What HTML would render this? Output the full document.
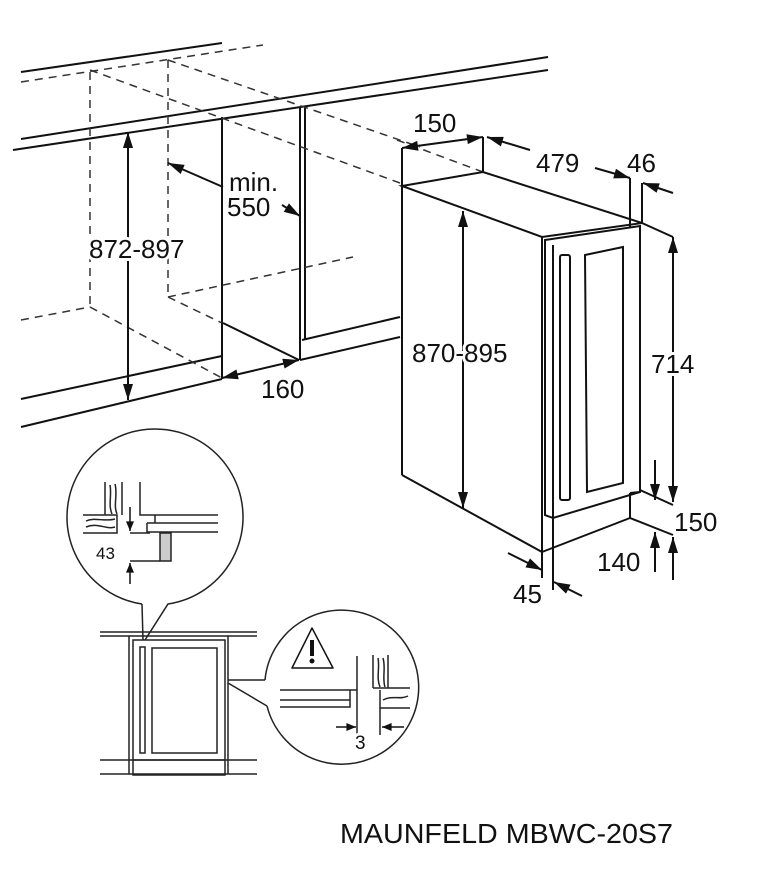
<!DOCTYPE html>
<html><head><meta charset="utf-8"><style>
html,body{margin:0;padding:0;background:#fff;}
svg{display:block;}
text{font-family:"Liberation Sans",sans-serif;fill:#111;paint-order:stroke;stroke:#fff;stroke-width:6px;stroke-linejoin:round;}
</style></head><body>
<svg width="764" height="896" viewBox="0 0 764 896" xmlns="http://www.w3.org/2000/svg">
<defs>
<marker id="a" viewBox="0 0 12 10" refX="12" refY="5" markerWidth="11" markerHeight="8" orient="auto-start-reverse" markerUnits="userSpaceOnUse"><path d="M0,0 L12,5 L0,10 z" fill="#111"/></marker>
<marker id="b" viewBox="0 0 16 10" refX="16" refY="5" markerWidth="17" markerHeight="10" orient="auto-start-reverse" markerUnits="userSpaceOnUse"><path d="M0,0 L16,5 L0,10 z" fill="#111"/></marker>
</defs>
<g stroke="#111" stroke-width="2" fill="none">
<line x1="21" y1="72" x2="222" y2="43"/>
<line x1="21" y1="139" x2="548" y2="57"/>
<line x1="13" y1="150" x2="548" y2="70"/>
<line x1="21" y1="399" x2="222" y2="356"/>
<line x1="21" y1="427" x2="222" y2="379"/>
<line x1="300" y1="360" x2="400" y2="337"/>
<line x1="302" y1="340" x2="400" y2="317"/>
<line x1="222" y1="117" x2="222" y2="379"/>
<line x1="300" y1="107" x2="300" y2="360"/>
<line x1="305" y1="106" x2="305" y2="340"/>
<line x1="223" y1="323" x2="299" y2="360"/>
</g>
<g stroke="#333" stroke-width="1.5" fill="none" stroke-dasharray="8,6">
<line x1="21" y1="82" x2="263" y2="45"/>
<line x1="90" y1="72" x2="90" y2="307"/>
<line x1="168" y1="60" x2="168" y2="297"/>
<line x1="90" y1="70" x2="400" y2="183"/>
<line x1="168" y1="60" x2="420" y2="147"/>
<line x1="21" y1="320" x2="90" y2="307"/>
<line x1="90" y1="307" x2="222" y2="378"/>
<line x1="168" y1="297" x2="353" y2="257"/>
<line x1="168" y1="297" x2="222" y2="323"/>
<line x1="397" y1="140" x2="483" y2="172"/>
</g>
<g stroke="#111" stroke-width="2" fill="none">
<line x1="128" y1="132" x2="128" y2="400" marker-start="url(#b)" marker-end="url(#b)"/>
<line x1="223" y1="187" x2="168" y2="163" marker-end="url(#b)"/>
<line x1="282" y1="205" x2="300" y2="216" marker-end="url(#b)"/>
<line x1="222" y1="378" x2="299" y2="360" marker-start="url(#b)" marker-end="url(#b)"/>
<polygon points="402,186 483,172 642,223 542,237"/>
<line x1="402" y1="186" x2="402" y2="475"/>
<line x1="402" y1="475" x2="542" y2="552"/>
<line x1="542" y1="237" x2="542" y2="552"/>
<line x1="542" y1="552" x2="630" y2="518"/>
<line x1="630" y1="493" x2="630" y2="518"/>
<line x1="553" y1="518" x2="553" y2="590"/>
<line x1="542" y1="552" x2="542" y2="578"/>
<polygon points="545,240 640,226 640,492 553,518 545,515"/>
<line x1="553" y1="245" x2="553" y2="518"/>
<polygon points="585,255 623,247 623,483 587,492"/>
<rect x="560" y="255" width="10" height="245" rx="2"/>
<line x1="640" y1="492" x2="630" y2="493"/>
<line x1="402" y1="148" x2="402" y2="186"/>
<line x1="483" y1="137" x2="483" y2="172"/>
<line x1="402" y1="148" x2="483" y2="137" marker-start="url(#b)" marker-end="url(#b)"/>
<line x1="530" y1="150" x2="487" y2="137" marker-end="url(#b)"/>
<line x1="595" y1="168" x2="630" y2="178" marker-end="url(#b)"/>
<line x1="630" y1="178" x2="630" y2="228"/>
<line x1="642" y1="183" x2="642" y2="223"/>
<line x1="673" y1="193" x2="643" y2="183" marker-end="url(#b)"/>
<line x1="642" y1="223" x2="673" y2="237"/>
<line x1="673" y1="237" x2="673" y2="502" marker-start="url(#b)" marker-end="url(#b)"/>
<line x1="640" y1="490" x2="673" y2="505"/>
<line x1="655" y1="460" x2="655" y2="500" marker-end="url(#b)"/>
<line x1="630" y1="518" x2="673" y2="535"/>
<line x1="655" y1="572" x2="655" y2="532" marker-end="url(#b)"/>
<line x1="673" y1="580" x2="673" y2="537" marker-end="url(#b)"/>
<line x1="463" y1="211" x2="463" y2="508" marker-start="url(#b)" marker-end="url(#b)"/>
<line x1="508" y1="553" x2="542" y2="570" marker-end="url(#b)"/>
<line x1="582" y1="596" x2="554" y2="582" marker-end="url(#b)"/>
</g>
<g stroke="#222" stroke-width="1.5" fill="none">
<path d="M142,604 A88,88 0 1 1 168,604 L145,640"/>
<line x1="142" y1="604" x2="143" y2="640"/>
<line x1="100" y1="632" x2="257" y2="632"/>
<line x1="100" y1="636" x2="257" y2="636"/>
<line x1="100" y1="760" x2="257" y2="760"/>
<line x1="100" y1="774" x2="257" y2="774"/>
<line x1="129" y1="636" x2="129" y2="774"/>
<line x1="228" y1="636" x2="228" y2="774"/>
<rect x="133" y="640" width="92" height="135"/>
<rect x="152" y="648" width="65" height="105"/>
<rect x="140" y="647" width="5" height="106"/>
<line x1="133" y1="760" x2="225" y2="760"/>
<path d="M228,680 L265,680 M228,683 L267,706"/>
<path d="M265,680 A77,77 0 1 1 267,706"/>
<path d="M105,482 V515 M122,482 V515 M110,485 C112,495 108,505 112,514 M115,484 C118,495 113,505 117,514"/>
<path d="M83,515 H117 V533 H83 M86,521 C95,517 105,522 115,519 M86,527 C98,522 106,530 115,527"/>
<path d="M140,482 V515 H218 M155,515 V523 H218 M147,523 V532 H218 M147,523 H155"/>
<rect x="160" y="533" width="11" height="28" fill="#ccc"/>
<line x1="130" y1="533" x2="150" y2="533"/>
<line x1="130" y1="561" x2="160" y2="561"/>
<path d="M280,690 H357 M280,700 H350 V707 H280 M350,690 V700 M357,656 V700"/>
<path d="M373,655 V688 M388,655 V688 M378,658 C380,668 376,678 380,687 M383,658 C386,668 382,678 385,687"/>
<path d="M373,688 H410 M380,690 V708 H410 M383,700 C392,695 400,700 408,696"/>
<line x1="357" y1="700" x2="357" y2="735"/>
<line x1="380" y1="708" x2="380" y2="735"/>
</g>
<g stroke="#111" stroke-width="1.5" fill="none">
<line x1="130" y1="507" x2="130" y2="531" marker-end="url(#a)"/>
<line x1="130" y1="584" x2="130" y2="563" marker-end="url(#a)"/>
<line x1="336" y1="727" x2="356" y2="727" marker-end="url(#a)"/>
<line x1="404" y1="727" x2="382" y2="727" marker-end="url(#a)"/>
<path d="M312,628 L333,668 L292,668 Z" stroke-linejoin="round"/>
</g>
<rect x="310" y="640" width="4" height="16" fill="#111"/>
<circle cx="312" cy="661" r="2.5" fill="#111"/>
<g font-size="26">
<text x="89" y="258">872-897</text>
<text x="229" y="191">min.</text>
<text x="227" y="216">550</text>
<text x="261" y="398">160</text>
<text x="413" y="132">150</text>
<text x="536" y="172">479</text>
<text x="627" y="172">46</text>
<text x="412" y="362">870-895</text>
<text x="651" y="373">714</text>
<text x="674" y="531">150</text>
<text x="597" y="571">140</text>
<text x="513" y="603">45</text>
</g>
<text x="96" y="559" font-size="17">43</text>
<text x="355" y="749" font-size="19">3</text>
<text x="340" y="843" font-size="28" textLength="333" lengthAdjust="spacingAndGlyphs">MAUNFELD MBWC-20S7</text>
</svg>
</body></html>
